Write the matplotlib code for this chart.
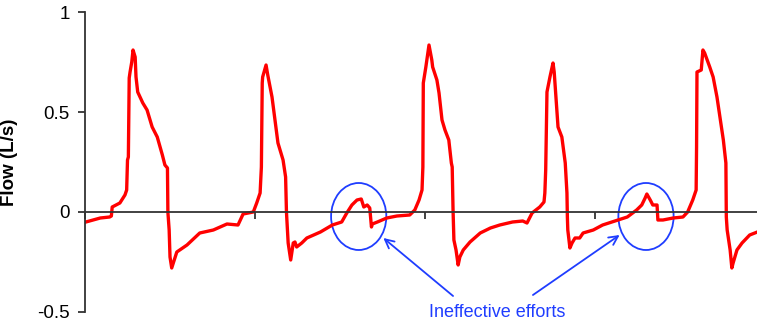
import matplotlib
matplotlib.use("Agg")
import matplotlib.pyplot as plt
from matplotlib.patches import Ellipse
import numpy as np

plt.rcParams['font.family'] = ['Liberation Sans', 'DejaVu Sans']

# airway flow trace (time in s, flow in L/s)
time_s = [
    0.01, 0.18, 0.29, 0.31, 0.32, 0.41, 0.47, 0.49, 0.50, 0.51, 0.52, 0.53,
    0.55, 0.565, 0.59, 0.60, 0.62, 0.68, 0.73, 0.79, 0.85, 0.91, 0.94, 0.97,
    0.975, 0.99, 1.00, 1.02, 1.05, 1.08, 1.20, 1.35, 1.51, 1.67, 1.80, 1.86,
    1.98, 2.02, 2.06, 2.075, 2.085, 2.09, 2.13, 2.15, 2.20, 2.24, 2.27, 2.33,
    2.36, 2.37, 2.39, 2.42, 2.45, 2.47, 2.49, 2.55, 2.61, 2.77, 2.91, 3.02,
    3.08, 3.14, 3.20, 3.25, 3.28, 3.32, 3.35, 3.37, 3.38, 3.44, 3.55, 3.67,
    3.82, 3.88, 3.93, 3.965, 3.975, 3.98, 4.01, 4.047, 4.08, 4.09, 4.14, 4.165,
    4.20, 4.235, 4.28, 4.31, 4.32, 4.33, 4.34, 4.365, 4.39, 4.41, 4.45, 4.53,
    4.65, 4.77, 4.88, 5.03, 5.15, 5.20, 5.26, 5.35, 5.40, 5.41, 5.42, 5.435,
    5.47, 5.506, 5.52, 5.54, 5.565, 5.61, 5.65, 5.67, 5.675, 5.68, 5.705, 5.73,
    5.765, 5.82, 5.86, 5.98, 6.09, 6.27, 6.38, 6.49, 6.55, 6.59, 6.61, 6.65,
    6.68, 6.73, 6.74, 6.80, 6.92, 7.035, 7.09, 7.15, 7.19, 7.195, 7.20, 7.25,
    7.27, 7.29, 7.35, 7.39, 7.435, 7.47, 7.51, 7.54, 7.545, 7.555, 7.59, 7.61,
    7.625, 7.67, 7.73, 7.82, 7.91,
]
flow_ls = [
    -0.05, -0.03, -0.025, -0.02, 0.025, 0.045, 0.085, 0.11, 0.26, 0.275, 0.67, 0.70,
    0.75, 0.81, 0.775, 0.675, 0.60, 0.545, 0.51, 0.425, 0.375, 0.285, 0.235, 0.22,
    0.0, -0.09, -0.225, -0.28, -0.24, -0.20, -0.165, -0.105, -0.09, -0.06, -0.065, -0.01,
    0.0, 0.045, 0.095, 0.225, 0.645, 0.675, 0.735, 0.685, 0.575, 0.445, 0.345, 0.26,
    0.175, 0.0, -0.155, -0.24, -0.155, -0.15, -0.175, -0.155, -0.13, -0.10, -0.065, -0.05,
    -0.005, 0.035, 0.06, 0.065, 0.025, 0.035, 0.02, -0.075, -0.06, -0.05, -0.03, -0.02,
    -0.015, 0.01, 0.06, 0.11, 0.225, 0.645, 0.725, 0.835, 0.76, 0.725, 0.66, 0.595,
    0.46, 0.41, 0.36, 0.245, 0.225, 0.01, -0.14, -0.19, -0.265, -0.225, -0.19, -0.15,
    -0.105, -0.08, -0.065, -0.05, -0.045, -0.055, -0.005, 0.025, 0.05, 0.095, 0.21, 0.60,
    0.675, 0.745, 0.70, 0.575, 0.425, 0.375, 0.245, 0.095, -0.025, -0.09, -0.18, -0.155,
    -0.13, -0.13, -0.105, -0.09, -0.065, -0.04, -0.025, 0.01, 0.035, 0.07, 0.09, 0.06,
    0.035, 0.035, -0.04, -0.04, -0.03, -0.025, 0.0, 0.06, 0.11, 0.325, 0.70, 0.71,
    0.81, 0.795, 0.725, 0.675, 0.575, 0.475, 0.36, 0.245, -0.025, -0.09, -0.19, -0.28,
    -0.255, -0.19, -0.155, -0.115, -0.10,
]

# circled ineffective efforts: centre time, centre flow
effort_t = [3.22, 6.60]
effort_flow = [-0.0225, -0.0225]

y_ticks = [-0.5, 0, 0.5, 1]
y_labels = ['-0.5', '0', '0.5', '1']
x_ticks = [0, 2, 4, 6]

blue = '#1f3dff'

fig = plt.figure(figsize=(7.57, 3.29), dpi=100)
ax = fig.add_axes([0.1123, 0.0517, 0.8877, 0.9118])

ax.plot(time_s, flow_ls, color='#ff0000', lw=2.4, solid_joinstyle='round')

for t, f in zip(effort_t, effort_flow):
    ax.add_patch(Ellipse((t, f), 0.65, 0.335, fill=False, ec=blue, lw=1.3))

ax.set_xlim(0, 7.906)
ax.set_ylim(-0.5, 1)

ax.spines['top'].set_visible(False)
ax.spines['right'].set_visible(False)
ax.spines['bottom'].set_position(('data', 0))
for s in ('left', 'bottom'):
    ax.spines[s].set_color('#333333')
    ax.spines[s].set_linewidth(1.3)

ax.set_xticks(x_ticks)
ax.set_xticklabels([])
ax.set_yticks(y_ticks)
ax.set_yticklabels(y_labels, fontsize=13.5)
ax.tick_params(axis='both', direction='out', length=5, width=1.3, color='#333333', pad=6)

ax.set_ylabel('Flow (L/s)', fontsize=13.5, fontweight='bold')
ax.yaxis.set_label_coords(-0.1, 0.5)

# annotation text with arrows pointing at both ellipses
ax.text(4.85, -0.505, 'Ineffective efforts', color=blue, fontsize=13,
        ha='center', va='center', clip_on=False)
arrow = dict(arrowstyle='->', color=blue, lw=1.3, mutation_scale=16,
             shrinkA=0, shrinkB=0)
ax.annotate('', xy=(3.51, -0.13), xytext=(4.33, -0.42), arrowprops=arrow)
ax.annotate('', xy=(6.29, -0.115), xytext=(5.27, -0.415), arrowprops=arrow)

fig.savefig('out.png', dpi=100)
